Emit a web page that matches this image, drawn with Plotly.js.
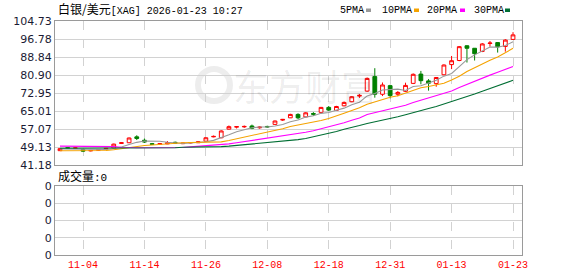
<!DOCTYPE html>
<html>
<head>
<meta charset="utf-8">
<script src="https://cdn.plot.ly/plotly-3.0.1.min.js"></script>
<style>html,body{margin:0;padding:0;background:#fff;}#chart{width:578px;height:276px;}</style>
</head>
<body>
<div id="chart"></div>
<script>
const dates = ["2025-10-30","2025-10-31","2025-11-03","2025-11-04","2025-11-05","2025-11-06","2025-11-07","2025-11-10","2025-11-11","2025-11-12",
"2025-11-13","2025-11-14","2025-11-17","2025-11-18","2025-11-19","2025-11-20","2025-11-21","2025-11-24","2025-11-25","2025-11-26",
"2025-11-27","2025-11-28","2025-12-01","2025-12-02","2025-12-03","2025-12-04","2025-12-05","2025-12-08","2025-12-09","2025-12-10",
"2025-12-11","2025-12-12","2025-12-15","2025-12-16","2025-12-17","2025-12-18","2025-12-19","2025-12-22","2025-12-23","2025-12-24",
"2025-12-26","2025-12-29","2025-12-30","2025-12-31","2026-01-02","2026-01-05","2026-01-06","2026-01-07","2026-01-08","2026-01-09",
"2026-01-12","2026-01-13","2026-01-14","2026-01-15","2026-01-16","2026-01-19","2026-01-20","2026-01-21","2026-01-22","2026-01-23"];

const openP  = [47.5,48.8,48.6,48.0,47.4,47.7,48.2,48.7,50.7,51.0, 53.6,52.1,50.6,50.3,50.5,51.2,50.6,50.9,51.0,51.7,
                53.6,53.2,57.0,57.9,58.0,58.4,57.6,58.2,59.1,61.0, 62.0,63.5,62.4,63.9,64.4,66.6,65.3,67.3,69.1,71.6,
                73.8,80.2,72.4,76.2,72.4,73.7,77.2,81.3,78.3,77.1, 81.0,85.5,87.3,93.8,92.7,91.3,94.8,95.2,93.5,96.6];
const highP  = [48.6,49.0,48.9,48.2,47.8,48.2,48.7,50.6,51.3,53.3, 54.3,52.9,50.9,50.8,51.7,51.5,51.0,51.3,51.7,53.4,
                54.2,56.5,58.6,58.2,58.6,59.0,58.3,58.5,60.8,61.5, 63.8,64.0,64.5,64.5,66.8,67.2,67.3,69.2,71.6,72.5,
                79.8,83.9,77.6,76.6,73.8,77.5,81.6,82.7,79.1,80.0, 85.6,89.3,93.7,94.0,92.8,95.0,95.9,95.4,96.7,99.8];
const lowP   = [47.4,48.4,48.4,46.9,47.2,47.5,48.0,48.5,50.5,50.9, 52.2,50.9,50.1,50.1,50.4,50.6,50.4,50.7,50.9,51.6,
                53.4,53.0,56.8,57.3,57.6,57.0,57.2,57.6,59.0,60.6, 61.9,61.4,62.2,62.8,64.2,65.0,65.1,67.1,68.9,70.8,
                73.5,70.9,71.6,70.6,71.5,73.4,76.9,76.8,74.0,75.7, 80.8,83.5,87.0,86.4,87.3,91.0,93.4,90.8,91.2,96.4];
const closeP = [48.4,48.6,48.7,47.3,47.6,48.0,48.5,50.4,51.0,53.1, 52.9,51.3,50.3,50.6,51.0,50.8,50.8,51.1,51.4,53.2,
                53.8,56.2,58.1,58.1,58.2,57.4,57.9,58.0,60.6,61.3, 63.5,62.0,64.2,63.6,66.6,65.4,67.0,68.8,71.3,71.9,
                79.4,72.4,76.5,71.8,73.2,76.3,81.2,78.4,77.3,79.8, 85.3,87.2,93.4,92.7,90.3,94.6,95.0,93.3,96.3,98.6];

const ma5  = [48.3,48.3,48.3,48.2,48.12,48.04,48.02,48.36,49.1,50.2, 51.18,51.74,51.72,51.64,51.22,50.8,50.7,50.86,51.02,51.46,
              52.06,53.14,54.54,55.88,56.88,57.6,57.94,57.92,58.42,59.04, 60.26,61.08,62.32,62.92,63.98,64.36,65.36,66.28,67.82,68.88,
              71.68,72.76,74.3,74.4,74.66,74.04,75.8,76.18,77.28,78.6, 80.4,81.6,84.6,87.68,89.78,91.64,93.2,93.18,93.9,95.56];
const ma10 = [47.5,47.5,47.5,47.4,47.4,47.5,47.6,47.9,48.4,48.9, 49.4,49.8,50.0,50.3,50.6,50.8,51.0,51.1,51.1,51.1,
              51.1,51.4,52.0,52.7,53.4,54.1,54.8,55.5,56.4,57.2, 58.2,58.8,59.4,60.0,60.8,61.7,62.7,64.0,65.2,66.4,
              68.02,69.06,70.29,71.11,71.77,72.86,74.28,75.24,75.84,76.63, 77.22,78.7,80.39,82.48,84.19,86.02,87.4,88.89,90.79,92.67];
const ma20 = [49.5,49.5,49.5,49.5,49.5,49.5,49.5,49.3,49.0,48.8, 48.8,48.8,48.8,48.8,48.8,48.9,48.9,49.2,49.4,49.6,
              49.8,50.1,50.5,51.0,51.5,52.0,52.5,52.9,53.4,53.8, 54.3,54.9,55.6,56.3,57.1,57.9,58.8,59.8,60.9,61.9,
              63.48,64.29,65.21,65.89,66.64,67.59,68.75,69.77,70.61,71.53, 72.62,73.88,75.34,76.8,77.98,79.44,80.84,82.07,83.32,84.65];
const ma30 = [48.6,48.6,48.6,48.6,48.6,48.6,48.6,48.6,48.6,48.6, 48.8,48.8,48.8,48.8,48.8,48.8,49.0,49.0,49.0,49.0,
              49.2,49.3,49.5,49.8,50.1,50.4,50.7,51.0,51.3,51.6, 52.0,52.4,52.9,53.6,54.4,55.2,56.0,57.0,57.95,58.58,
              59.46,60.16,61.04,61.74,62.48,63.33,64.35,65.26,66.12,67.01, 68.06,69.09,70.27,71.42,72.49,73.73,74.97,76.14,77.33,78.58];

const volume = [0,0,0,0,0,0,0,0,0,0, 0,0,0,0,0,0,0,0,0,0, 0,0,0,0,0,0,0,0,0,0,
                0,0,0,0,0,0,0,0,0,0, 0,0,0,0,0,0,0,0,0,0, 0,0,0,0,0,0,0,0,0,0];

const tickDates  = ["2025-11-04","2025-11-14","2025-11-26","2025-12-08","2025-12-18","2025-12-31","2026-01-13","2026-01-23"];
const tickLabels = ["11-04","11-14","11-26","12-08","12-18","12-31","01-13","01-23"];
const priceTicks  = [41.18,49.12375,57.0675,65.01125,72.955,80.89875,88.8425,96.78625,104.73];
const priceLabels = ["41.18","49.13","57.07","65.01","72.95","80.90","88.84","96.78","104.73"];
const volTicks  = [0,1,2,3,4];
const volLabels = ["0","0","0","0","0"];

const maNames  = ["5PMA","10PMA","20PMA","30PMA"];
const maColors = ["#999999","#f5a300","#ff00ff","#006e33"];
const maSeries = [ma5, ma10, ma20, ma30];

const traces = [];
maSeries.forEach((s, k) => {
  traces.push({type:'scatter', mode:'lines', x:dates, y:s, xaxis:'x', yaxis:'y',
    line:{color:maColors[k], width:1.1}, hoverinfo:'skip'});
});
traces.push({
  type:'candlestick', x:dates, open:openP, high:highP, low:lowP, close:closeP,
  xaxis:'x', yaxis:'y', whiskerwidth:0,
  increasing:{line:{color:'#ff0000', width:1}, fillcolor:'#ffffff'},
  decreasing:{line:{color:'#008000', width:1}, fillcolor:'#008000'},
  hoverinfo:'skip'
});
traces.push({type:'bar', x:dates, y:volume, xaxis:'x2', yaxis:'y2', marker:{color:'#ff0000'}, hoverinfo:'skip'});

const gridC = '#d2d2d2', borderC = '#9a9a9a';
const xRange = [-0.65, 60.17];
const baseX = {type:'category', categoryorder:'array', categoryarray:dates, range:xRange,
  tickmode:'array', tickvals:tickDates, ticktext:tickLabels, showgrid:true, gridcolor:gridC, griddash:'dash',
  gridwidth:1, showline:true, mirror:true, linecolor:borderC, linewidth:1, ticks:'', zeroline:false,
  rangeslider:{visible:false}, fixedrange:true};

const annotations = [
  {xref:'paper', yref:'paper', x:0.002, y:1.0, xanchor:'left', yanchor:'bottom', yshift:2, showarrow:false,
   text:'<span style="font-family:\'Noto Sans CJK SC\';font-size:12px">白银/美元</span>[XAG] 2026-01-23 10:27',
   font:{family:'Liberation Mono, monospace', size:10, color:'#000'}},
  {xref:'paper', yref:'paper', x:0.002, y:0.2949, xanchor:'left', yanchor:'bottom', yshift:0, showarrow:false,
   text:'<span style="font-family:\'Noto Sans CJK SC\';font-size:12px">成交量</span>:0',
   font:{family:'Liberation Mono, monospace', size:11, color:'#000'}},
  {xref:'paper', yref:'paper', x:(305-55)/467, y:(255-85)/234, xanchor:'center', yanchor:'middle', showarrow:false,
   text:'东方财富', font:{family:'Noto Sans CJK SC', size:36, color:'rgba(0,0,0,0.08)'}}
];
const legendX = [338, 380, 425, 472];
const shapes = [];
maNames.forEach((n, k) => {
  annotations.push({xref:'paper', yref:'paper', x:(legendX[k]-55)/467, y:1.0, xanchor:'left', yanchor:'bottom', yshift:3,
    showarrow:false, text:n, font:{family:'Liberation Mono, monospace', size:10, color:'#000'}});
});
const boxX = [366, 414, 460, 505];
boxX.forEach((bx, k) => {
  shapes.push({type:'rect', xref:'paper', yref:'paper', x0:(bx-55)/467, x1:(bx+5-55)/467,
    y0:(255-12)/234, y1:(255-8.5)/234, fillcolor:maColors[k], line:{width:0}});
});
shapes.push({type:'circle', xref:'paper', yref:'paper', layer:'below', x0:(198-55)/467, x1:(230-55)/467,
  y0:(255-101)/234, y1:(255-69)/234, line:{color:'rgba(0,0,0,0.07)', width:6}});

const layout = {
  width:578, height:276, margin:{l:55, r:56, t:21, b:21}, paper_bgcolor:'#fff', plot_bgcolor:'#fff',
  showlegend:false, boxgap:0.3, bargap:0.3,
  xaxis:Object.assign({}, baseX, {anchor:'y', domain:[0,1], showticklabels:false}),
  xaxis2:Object.assign({}, baseX, {anchor:'y2', domain:[0,1], showticklabels:true,
    tickfont:{family:'Liberation Mono, monospace', size:10, color:'#ff0000'}}),
  yaxis:{domain:[0.3846,1], range:[41.18,104.73], tickmode:'array', tickvals:priceTicks, ticktext:priceLabels,
    showgrid:true, gridcolor:gridC, showline:true, mirror:true, linecolor:borderC, ticks:'', zeroline:false,
    tickfont:{family:'DejaVu Sans', size:11, color:'#1a1a33'}, fixedrange:true},
  yaxis2:{domain:[0,0.2949], range:[0,4], tickmode:'array', tickvals:volTicks, ticktext:volLabels,
    showgrid:true, gridcolor:gridC, showline:true, mirror:true, linecolor:borderC, ticks:'', zeroline:false,
    tickfont:{family:'DejaVu Sans', size:11, color:'#1a1a33'}, fixedrange:true},
  annotations:annotations, shapes:shapes
};
Plotly.newPlot('chart', traces, layout, {displayModeBar:false, staticPlot:true});
</script>
</body>
</html>
